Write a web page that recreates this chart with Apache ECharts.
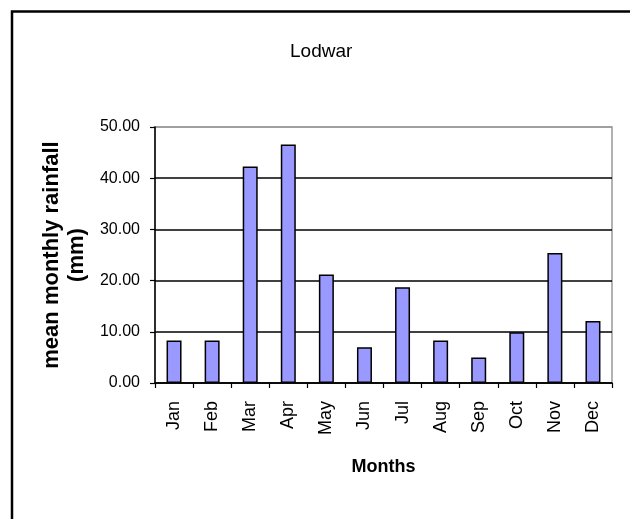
<!DOCTYPE html>
<html>
<head>
<meta charset="utf-8">
<script src="https://cdn.jsdelivr.net/npm/echarts@6/dist/echarts.min.js"></script>
<style>
html,body{margin:0;padding:0;background:#fff;}
#chart{width:630px;height:519px;}
</style>
</head>
<body>
<div id="chart"></div>
<script>
const titleText = 'Lodwar';
const months = ['Jan','Feb','Mar','Apr','May','Jun','Jul','Aug','Sep','Oct','Nov','Dec'];
const rainfall = [8.3, 8.3, 42.3, 46.6, 21.2, 7.0, 18.7, 8.3, 5.0, 9.9, 25.4, 12.1];
const yMin = 0, yMax = 50, yStep = 10;
const xTitle = 'Months';
const yTitle = 'mean monthly rainfall\n(mm)';

const FONT = '"Liberation Sans", Arial, sans-serif';
const chart = echarts.init(document.getElementById('chart'), null, {renderer: 'canvas'});
chart.setOption({
  backgroundColor: '#fff',
  animation: false,
  title: {
    text: titleText,
    left: 290, top: 42, padding: 0,
    textStyle: {fontFamily: FONT, fontSize: 19, fontWeight: 'normal', color: '#000'}
  },
  graphic: [{
    type: 'polyline',
    shape: {points: [[12, 530], [12, 11.5], [640, 11.5]]},
    style: {stroke: '#000', lineWidth: 2.5, fill: null},
    silent: true
  }],
  grid: {
    left: 155, top: 127, right: 18, bottom: 136,
    show: true, borderColor: '#999', borderWidth: 1.5, backgroundColor: 'transparent'
  },
  xAxis: {
    type: 'category',
    data: months,
    boundaryGap: true,
    name: xTitle,
    nameLocation: 'middle',
    nameGap: 75,
    nameTextStyle: {fontFamily: FONT, fontSize: 18, fontWeight: 'bold', color: '#000'},
    axisLine: {show: true, lineStyle: {color: '#000', width: 1.5}},
    axisTick: {show: true, alignWithLabel: false, length: 5, lineStyle: {color: '#000', width: 1.2}},
    axisLabel: {rotate: 90, margin: 18, interval: 0, fontFamily: FONT, fontSize: 18, color: '#000'},
    splitLine: {show: false}
  },
  yAxis: {
    type: 'value',
    min: yMin, max: yMax, interval: yStep,
    name: yTitle,
    nameLocation: 'middle',
    nameRotate: 90,
    nameGap: 63,
    nameTextStyle: {fontFamily: FONT, fontSize: 22, fontWeight: 'bold', color: '#000', lineHeight: 25, align: 'center'},
    axisLine: {show: true, lineStyle: {color: '#000', width: 1.5}},
    axisTick: {show: true, inside: false, length: 5, lineStyle: {color: '#000', width: 1.2}},
    axisLabel: {margin: 15, fontFamily: FONT, fontSize: 16, color: '#000',
      formatter: v => v.toFixed(2)},
    splitLine: {show: true, lineStyle: {color: ['#000','#000','#000','#000','#000','#999'], width: 1.5}}
  },
  series: [{
    type: 'bar',
    data: rainfall,
    barWidth: 15,
    itemStyle: {color: '#9999FF', borderColor: '#000', borderWidth: 1.5},
    emphasis: {disabled: true}
  }]
});
</script>
</body>
</html>
